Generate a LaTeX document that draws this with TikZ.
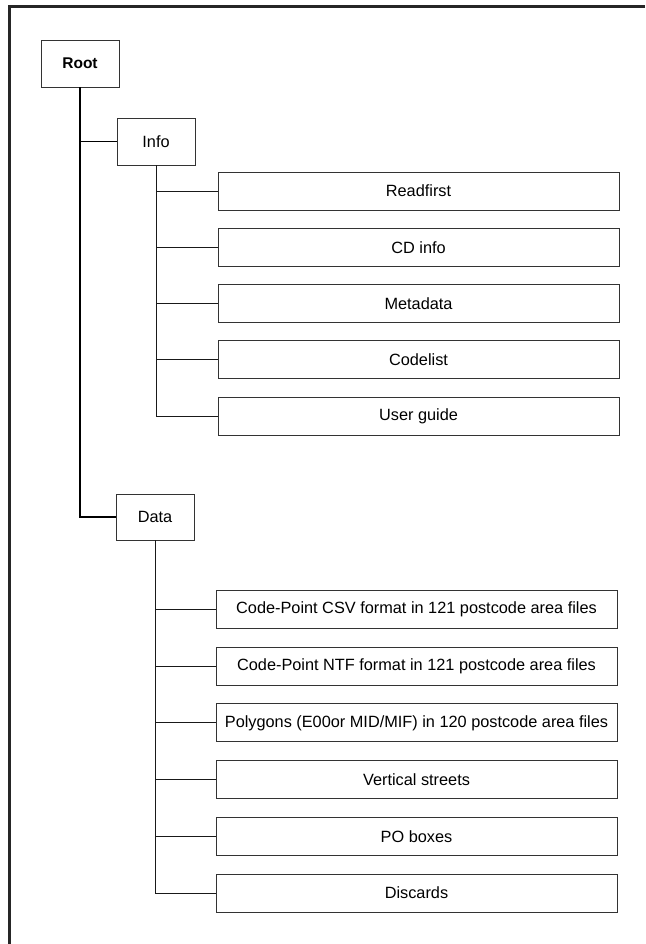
\documentclass[tikz,border=0pt]{standalone}
\usepackage{fontspec}
\setmainfont{Liberation Sans}
\tikzset{
    folder/.style={draw=black!80, line width=0.9pt, minimum width=78pt, minimum height=47pt, inner sep=0pt},
    leaf/.style={draw=black!80, line width=0.9pt, minimum width=401pt, minimum height=38pt, inner sep=0pt},
    trunk/.style={line width=1.6pt, black},
    branch/.style={line width=1pt, black!90},
}
\begin{document}
\begin{tikzpicture}[x=1pt, y=-1pt, font=\fontsize{16.3}{18}\selectfont]
    \useasboundingbox (0,0) rectangle (645,944);
    \draw[line width=2.6pt, black!85] (645,6.5) -- (9.5,6.5) -- (9.5,944);
    \node[folder, font=\fontsize{15.5}{18}\selectfont\bfseries] (root) at (80,63.5) {Root};
    \node[folder] (info) at (156,141.5) {Info};
    \node[folder, minimum height=46pt] (data) at (155,517) {Data};
    \draw[trunk] (root.south) |- (data.west);
    \draw[trunk] (root.south |- info.west) -- (info.west);
    \foreach \t [count=\i] in {Readfirst, CD info, Metadata, Codelist, User guide}{
        \node[leaf] (info\i) at (418.5,{191+56.25*(\i-1)}) {\t};
        \draw[branch] (info.south) |- (info\i.west);
        };
    \foreach \t [count=\i] in {Code-Point CSV format in 121 postcode area files,
            Code-Point NTF format in 121 postcode area files,
            Polygons (E00or MID/MIF) in 120 postcode area files,
            Vertical streets, PO boxes, Discards}{
        \node[leaf] (data\i) at (416.5,{609.5+56.7*(\i-1)}) {\t};
        \draw[branch] (data.south) |- (data\i.west);
        };
\end{tikzpicture}
\end{document}
